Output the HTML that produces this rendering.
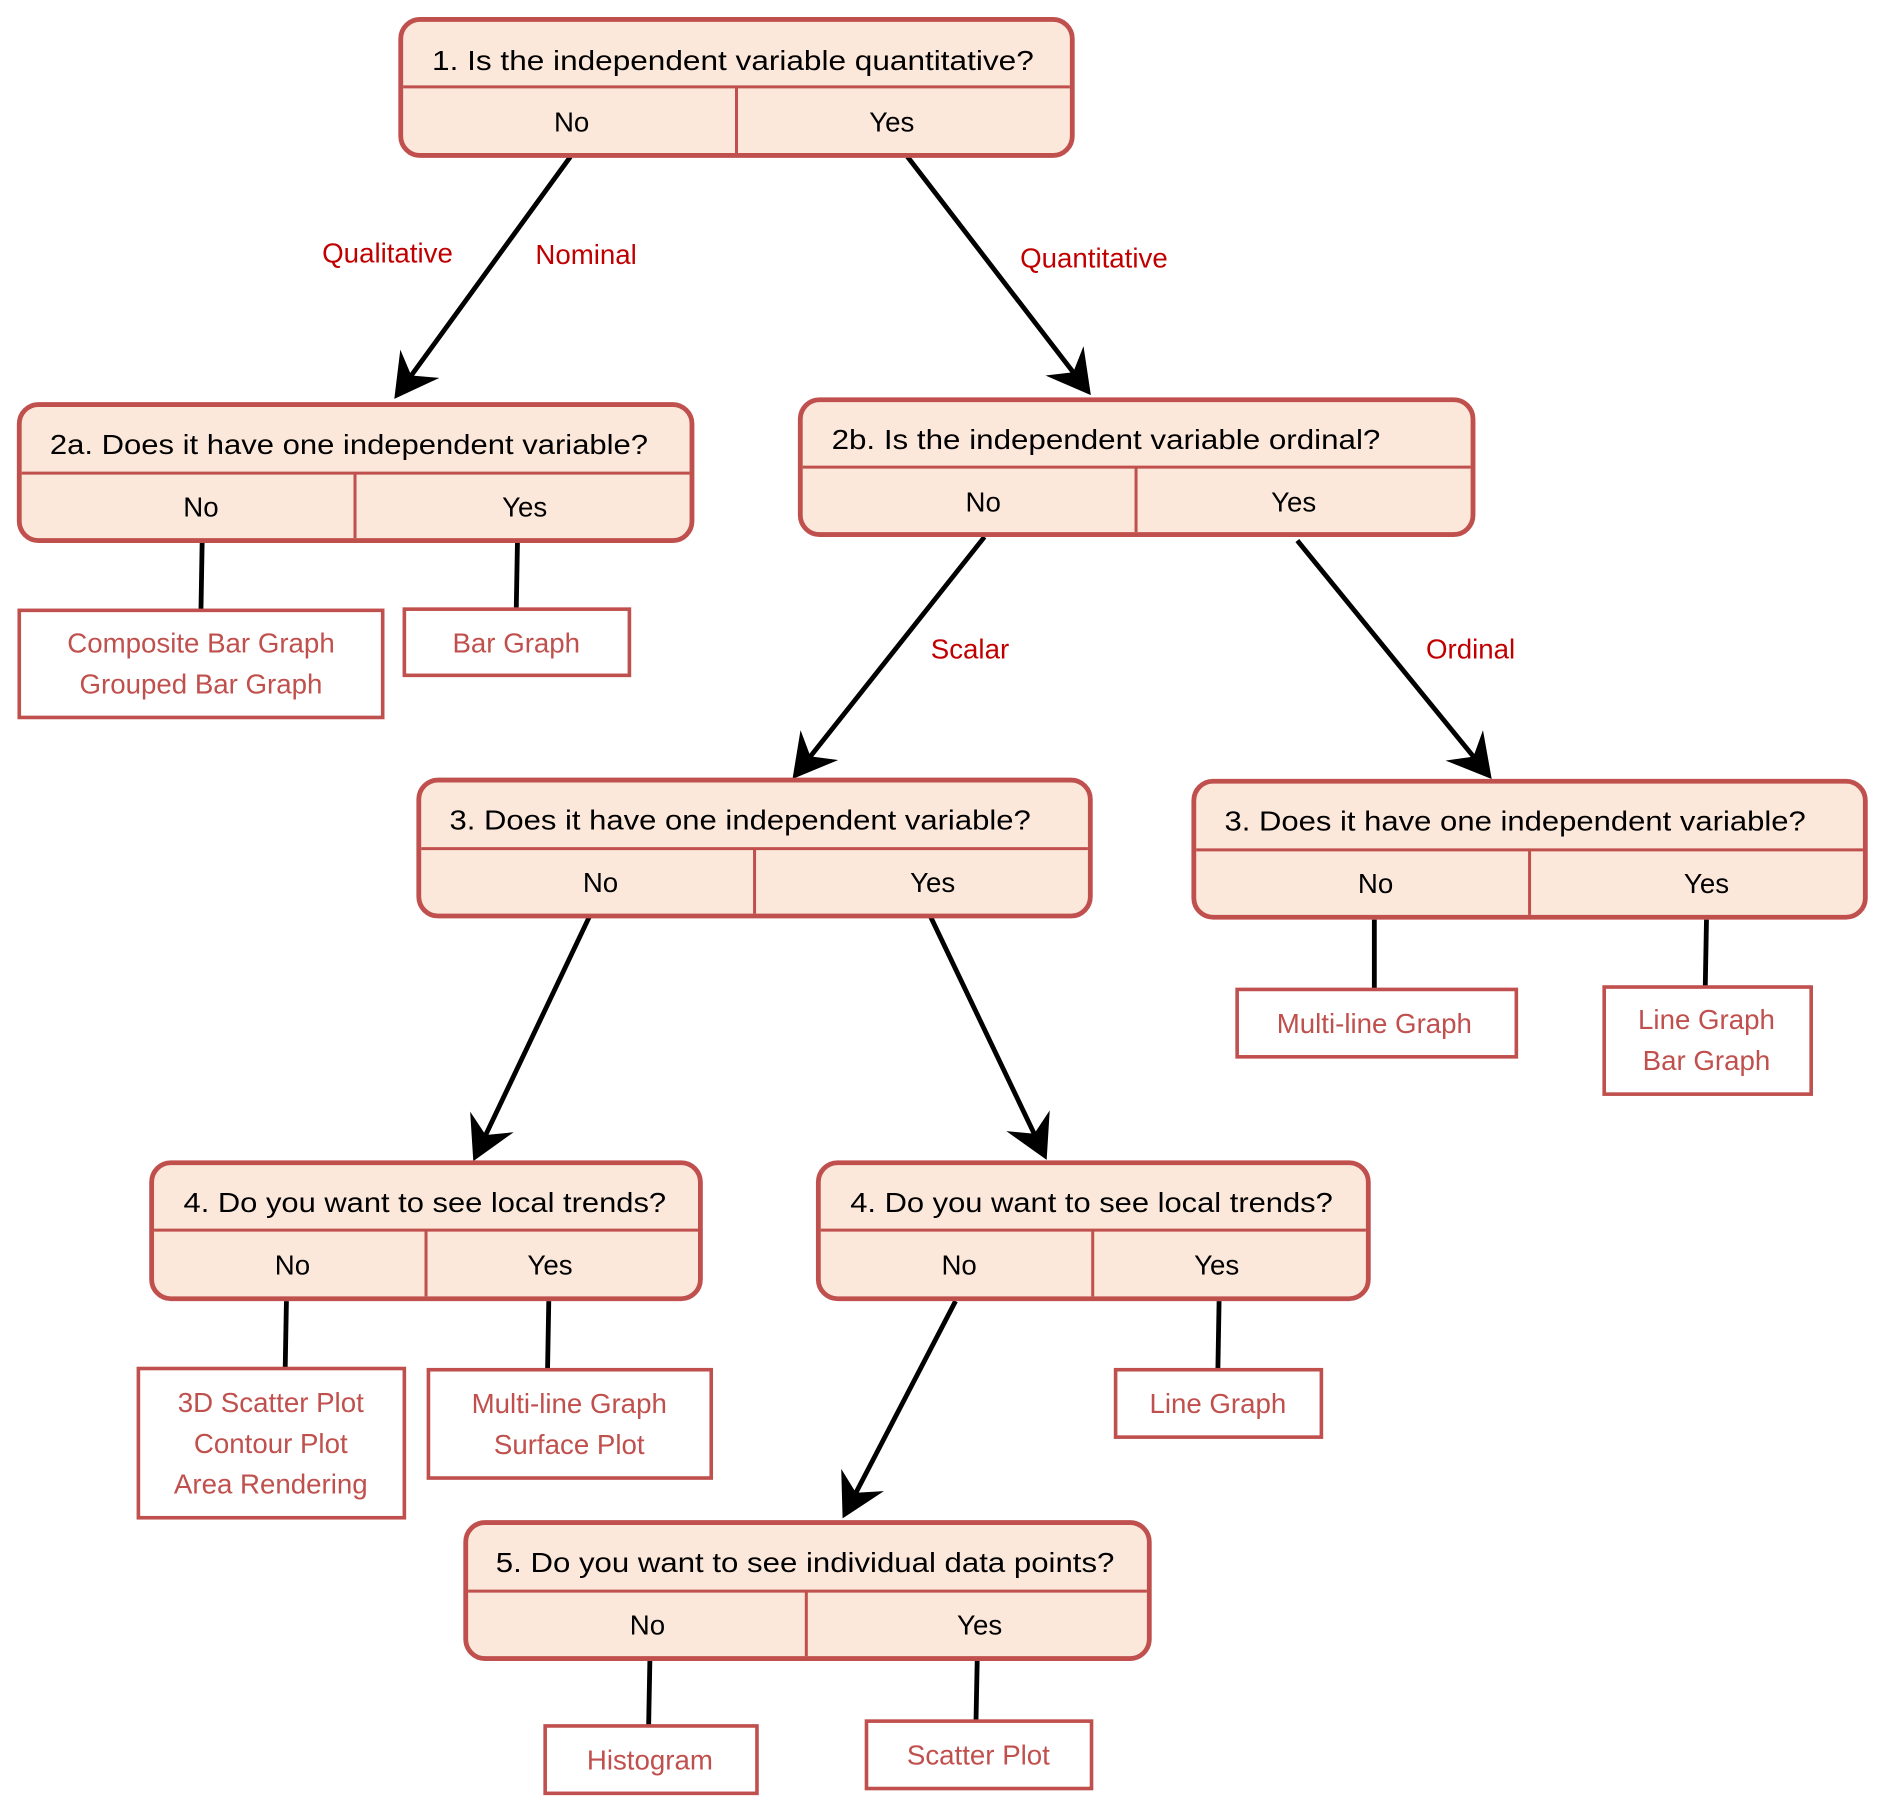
<!DOCTYPE html>
<html><head><meta charset="utf-8"><style>html,body{margin:0;padding:0;background:#fff}svg{display:block}</style></head>
<body>
<svg width="1887" height="1814" viewBox="0 0 1568 1507" xmlns="http://www.w3.org/2000/svg" font-family="Liberation Sans, sans-serif">
<defs>
<marker id="a" markerWidth="10" markerHeight="10" refX="8" refY="5" orient="auto" markerUnits="strokeWidth">
<path d="M0,0 L9,5 L0,10 L3,5 Z" fill="#000"/>
</marker>
</defs>
<g stroke="#000" stroke-width="4" fill="none">
<line x1="474" y1="130" x2="330" y2="328" marker-end="url(#a)"/>
<line x1="754" y1="130" x2="904" y2="325" marker-end="url(#a)"/>
<line x1="818" y1="446" x2="661" y2="644" marker-end="url(#a)"/>
<line x1="1078" y1="449" x2="1237" y2="644" marker-end="url(#a)"/>
<line x1="490" y1="761" x2="395" y2="961" marker-end="url(#a)"/>
<line x1="773" y1="761" x2="868" y2="960" marker-end="url(#a)"/>
<line x1="794" y1="1081" x2="702" y2="1258" marker-end="url(#a)"/>
<line x1="168" y1="449" x2="167" y2="506"/>
<line x1="430" y1="449" x2="429" y2="505"/>
<line x1="1142" y1="764" x2="1142" y2="821"/>
<line x1="1418" y1="764" x2="1417" y2="819"/>
<line x1="238" y1="1081" x2="237" y2="1136"/>
<line x1="456" y1="1081" x2="455" y2="1137"/>
<line x1="1013" y1="1081" x2="1012" y2="1137"/>
<line x1="540" y1="1380" x2="539" y2="1433"/>
<line x1="812" y1="1380" x2="811" y2="1430"/>
</g>
<g font-size="23" fill="#c00000" text-anchor="middle">
<text x="322" y="218">Qualitative</text>
<text x="487" y="219">Nominal</text>
<text x="909" y="222">Quantitative</text>
<text x="806" y="547">Scalar</text>
<text x="1222" y="547">Ordinal</text>
</g>
<g stroke="#c0504d" stroke-width="4" fill="#fce8db">
<rect x="333" y="16" width="558" height="113" rx="16"/>
<rect x="16" y="336" width="559" height="113" rx="16"/>
<rect x="665" y="332" width="559" height="112" rx="16"/>
<rect x="348" y="648" width="558" height="113" rx="16"/>
<rect x="992" y="649" width="558" height="113" rx="16"/>
<rect x="126" y="966" width="456" height="113" rx="16"/>
<rect x="680" y="966" width="457" height="113" rx="16"/>
<rect x="387" y="1265" width="568" height="113" rx="16"/>
</g>
<g stroke="#c0504d" stroke-width="2.5">
<line x1="335" y1="72" x2="889" y2="72"/><line x1="612" y1="72" x2="612" y2="127"/>
<line x1="18" y1="393" x2="573" y2="393"/><line x1="295" y1="393" x2="295" y2="447"/>
<line x1="667" y1="388" x2="1222" y2="388"/><line x1="944" y1="388" x2="944" y2="442"/>
<line x1="350" y1="705" x2="904" y2="705"/><line x1="627" y1="705" x2="627" y2="759"/>
<line x1="994" y1="706" x2="1548" y2="706"/><line x1="1271" y1="706" x2="1271" y2="760"/>
<line x1="128" y1="1022" x2="580" y2="1022"/><line x1="354" y1="1022" x2="354" y2="1077"/>
<line x1="682" y1="1022" x2="1135" y2="1022"/><line x1="908" y1="1022" x2="908" y2="1077"/>
<line x1="389" y1="1322" x2="953" y2="1322"/><line x1="670" y1="1322" x2="670" y2="1376"/>
</g>
<g font-size="23" fill="#000" text-anchor="middle">
<text x="609" y="58" textLength="500" lengthAdjust="spacingAndGlyphs">1. Is the independent variable quantitative?</text>
<text x="290" y="377" textLength="497" lengthAdjust="spacingAndGlyphs">2a. Does it have one independent variable?</text>
<text x="919" y="373" textLength="456" lengthAdjust="spacingAndGlyphs">2b. Is the independent variable ordinal?</text>
<text x="615" y="689" textLength="483" lengthAdjust="spacingAndGlyphs">3. Does it have one independent variable?</text>
<text x="1259" y="690" textLength="483" lengthAdjust="spacingAndGlyphs">3. Does it have one independent variable?</text>
<text x="353" y="1007" textLength="401" lengthAdjust="spacingAndGlyphs">4. Do you want to see local trends?</text>
<text x="907" y="1007" textLength="401" lengthAdjust="spacingAndGlyphs">4. Do you want to see local trends?</text>
<text x="669" y="1306" textLength="514" lengthAdjust="spacingAndGlyphs">5. Do you want to see individual data points?</text>
<text x="475" y="109">No</text><text x="741" y="109">Yes</text>
<text x="167" y="429">No</text><text x="436" y="429">Yes</text>
<text x="817" y="425">No</text><text x="1075" y="425">Yes</text>
<text x="499" y="741">No</text><text x="775" y="741">Yes</text>
<text x="1143" y="742">No</text><text x="1418" y="742">Yes</text>
<text x="243" y="1059">No</text><text x="457" y="1059">Yes</text>
<text x="797" y="1059">No</text><text x="1011" y="1059">Yes</text>
<text x="538" y="1358">No</text><text x="814" y="1358">Yes</text>
</g>
<g stroke="#c0504d" stroke-width="3" fill="#fff">
<rect x="16" y="507" width="302" height="89"/>
<rect x="336" y="506" width="187" height="55"/>
<rect x="1028" y="822" width="232" height="56"/>
<rect x="1333" y="820" width="172" height="89"/>
<rect x="115" y="1137" width="221" height="124"/>
<rect x="356" y="1138" width="235" height="90"/>
<rect x="927" y="1138" width="171" height="56"/>
<rect x="453" y="1434" width="176" height="56"/>
<rect x="720" y="1430" width="187" height="56"/>
</g>
<g font-size="23" fill="#c0504d" text-anchor="middle">
<text x="167" y="542">Composite Bar Graph</text>
<text x="167" y="576">Grouped Bar Graph</text>
<text x="429" y="542">Bar Graph</text>
<text x="1142" y="858">Multi-line Graph</text>
<text x="1418" y="855">Line Graph</text>
<text x="1418" y="889">Bar Graph</text>
<text x="225" y="1173">3D Scatter Plot</text>
<text x="225" y="1207">Contour Plot</text>
<text x="225" y="1241">Area Rendering</text>
<text x="473" y="1174">Multi-line Graph</text>
<text x="473" y="1208">Surface Plot</text>
<text x="1012" y="1174">Line Graph</text>
<text x="540" y="1470">Histogram</text>
<text x="813" y="1466">Scatter Plot</text>
</g>
</svg>
</body></html>
